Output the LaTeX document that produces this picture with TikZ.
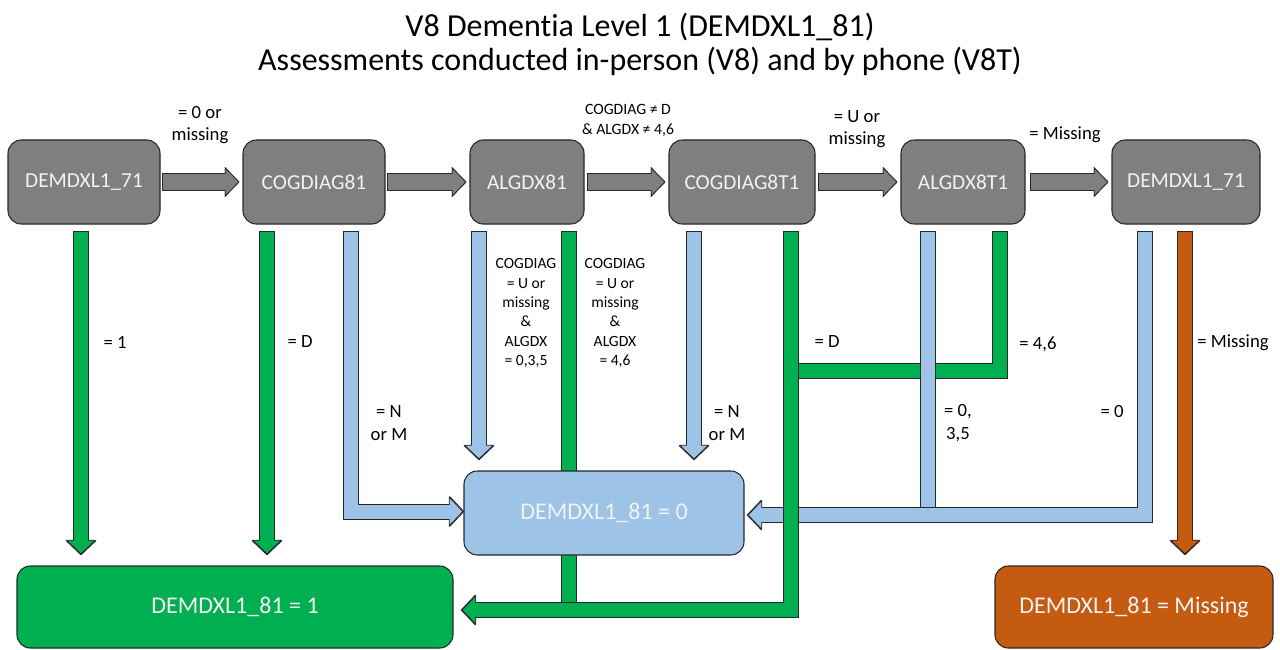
\documentclass[tikz,border=0pt]{standalone}
\usepackage{fontspec}
\setmainfont{Carlito}[Ligatures={NoCommon}]
\usetikzlibrary{arrows.meta}
\usetikzlibrary{calc}
\definecolor{boxgray}{RGB}{127,127,127}
\definecolor{zeroblue}{RGB}{157,195,230}
\definecolor{onegreen}{RGB}{0,176,80}
\definecolor{missorange}{RGB}{197,90,17}
\definecolor{edgegray}{RGB}{40,40,40}
\tikzset{
  box/.style={draw=edgegray, line width=0.8pt, rounded corners=10pt, inner sep=0pt,
    text=white!95!black, font=\fontsize{16}{18}\selectfont, minimum height=63pt},
  resbox/.style={box, font=\fontsize{18}{20}\selectfont},
  lbl/.style={align=center, inner sep=0pt, font=\fontsize{14}{17}\selectfont},
  smalllbl/.style={align=center, inner sep=0pt, font=\fontsize{11.7}{14.5}\selectfont},
  bar/.style={draw=#1, line width=10.5pt,
    preaction={draw=edgegray, line width=12pt, shorten <=-0.7pt, shorten >=-0.7pt}},
  flow/.style={bar=#1, -{Triangle[length=11pt, width=23pt, line width=0.6pt, color=edgegray, fill=#1]},
    postaction={draw=#1, line width=10.5pt, -, shorten >=9pt}},
  link/.style={draw=boxgray, line width=12pt,
    -{Triangle[length=11pt, width=22.5pt, line width=0.6pt, color=edgegray, fill=boxgray]},
    preaction={draw=edgegray, line width=13.5pt, shorten <=-0.7pt},
    postaction={draw=boxgray, line width=12pt, -, shorten >=9pt}}
}

\begin{document}
\begin{tikzpicture}[x=0.75pt, y=-0.75pt]
\useasboundingbox (0,0) rectangle (1280,649);
\node[align=center, font=\fontsize{24}{25.5}\selectfont] (title) at (640,44)
  {V8 Dementia Level 1 (DEMDXL1\_81)\\Assessments conducted in-person (V8) and by phone (V8T)};
% top row
\node[box, fill=boxgray, minimum width=114pt] (d71a) at (84,182) {DEMDXL1\_71};
\node[box, fill=boxgray, minimum width=106.5pt] (cog81) at (314,182) {COGDIAG81};
\node[box, fill=boxgray, minimum width=85.5pt] (alg81) at (527,182) {ALGDX81};
\node[box, fill=boxgray, minimum width=109.5pt] (cog8t1) at (742,182) {COGDIAG8T1};
\node[box, fill=boxgray, minimum width=93pt] (alg8t1) at (963,182) {ALGDX8T1};
\node[box, fill=boxgray, minimum width=111pt] (d71b) at (1186,182) {DEMDXL1\_71};
% results
\node[resbox, fill=onegreen, minimum width=327pt, minimum height=61.5pt] (res1) at (235,607) {DEMDXL1\_81 = 1};
\node[resbox, fill=missorange, minimum width=208.5pt, minimum height=61.5pt] (resM) at (1134,607) {DEMDXL1\_81 = Missing};
\draw[bar=onegreen] ($(alg81.south)+(42,7)$) -- ($(alg81.south |- res1.east)+(42,3)$); % behind the blue box
\node[resbox, fill=zeroblue, minimum width=210pt] (res0) at (604,513) {DEMDXL1\_81 = 0};

\draw[link] ($(d71a.east)+(2,0)$) -- ($(cog81.west)+(-3,0)$);
\draw[link] ($(cog81.east)+(2,0)$) -- ($(alg81.west)+(-3,0)$);
\draw[link] ($(alg81.east)+(3,0)$) -- ($(cog8t1.west)+(-3,0)$);
\draw[link] ($(cog8t1.east)+(3,0)$) -- ($(alg8t1.west)+(-3,0)$);
\draw[link] ($(alg8t1.east)+(5,0)$) -- ($(d71b.west)+(-3,0)$);
\node[lbl] (l1) at (200,125) {= 0 or\\missing};
\node[align=center, inner sep=0pt, font=\fontsize{11.8}{15}\selectfont] (l2) at (628,120) {COGDIAG ≠ D\\\& ALGDX ≠ 4,6};
\node[lbl] (l3) at (857,129) {= U or\\missing};
\node[lbl] (l4) at (1065,135) {= Missing};

% down the page
\draw[flow=onegreen] ($(d71a.south)+(-3,7)$) -- ($(d71a.south |- res1.north)+(-3,-11)$);
\draw[flow=onegreen] ($(cog81.south)+(-47,7)$) -- ($(cog81.south |- res1.north)+(-47,-11)$);
\draw[flow=zeroblue] ($(cog81.south)+(37,7)$) |- ($(res0.west)+(0,-1.5)$);
\draw[flow=zeroblue] ($(alg81.south)+(-48,7)$) -- ($(alg81.south |- res0.north)+(-48,-11)$);
\draw[flow=zeroblue] ($(cog8t1.south)+(-48,7)$) -- ($(cog8t1.south |- res0.north)+(-48,-11)$);
\draw[bar=onegreen] ($(alg8t1.south)+(36.5,7)$) |- ($(cog8t1.south)+(49,146)$);
\draw[bar=zeroblue] ($(alg8t1.south)+(-35.5,7)$) -- ($(alg8t1.south |- res0.east)+(-35.5,2)$);
\draw[flow=zeroblue] ($(d71b.south)+(-41,7)$) |- ($(res0.east)+(3,2)$);
\draw[flow=onegreen] ($(cog8t1.south)+(49,7)$) |- ($(res1.east)+(8,3)$);
\draw[flow=missorange] ($(d71b.south)+(-1,7)$) -- ($(d71b.south |- resM.north)+(-1,-11)$);

\node[lbl] (l5) at (115,342) {= 1};
\node[lbl] (l6) at (300,342) {= D};
\node[lbl] (l7) at (389,423) {= N\\or M};
\node[smalllbl] (l8) at (526,313) {COGDIAG\\= U or\\missing\\\&\\ALGDX\\= 0,3,5};
\node[smalllbl] (l9) at (615,313) {COGDIAG\\= U or\\missing\\\&\\ALGDX\\= 4,6};
\node[lbl] (l10) at (727,423) {= N\\or M};
\node[lbl] (l11) at (827,342) {= D};
\node[lbl] (l12) at (1038,344) {= 4,6};
\node[lbl] (l13) at (958,423) {= 0,\\3,5};
\node[lbl] (l14) at (1112,412) {= 0};
\node[lbl] (l15) at (1233,343) {= Missing};
\end{tikzpicture}
\end{document}
